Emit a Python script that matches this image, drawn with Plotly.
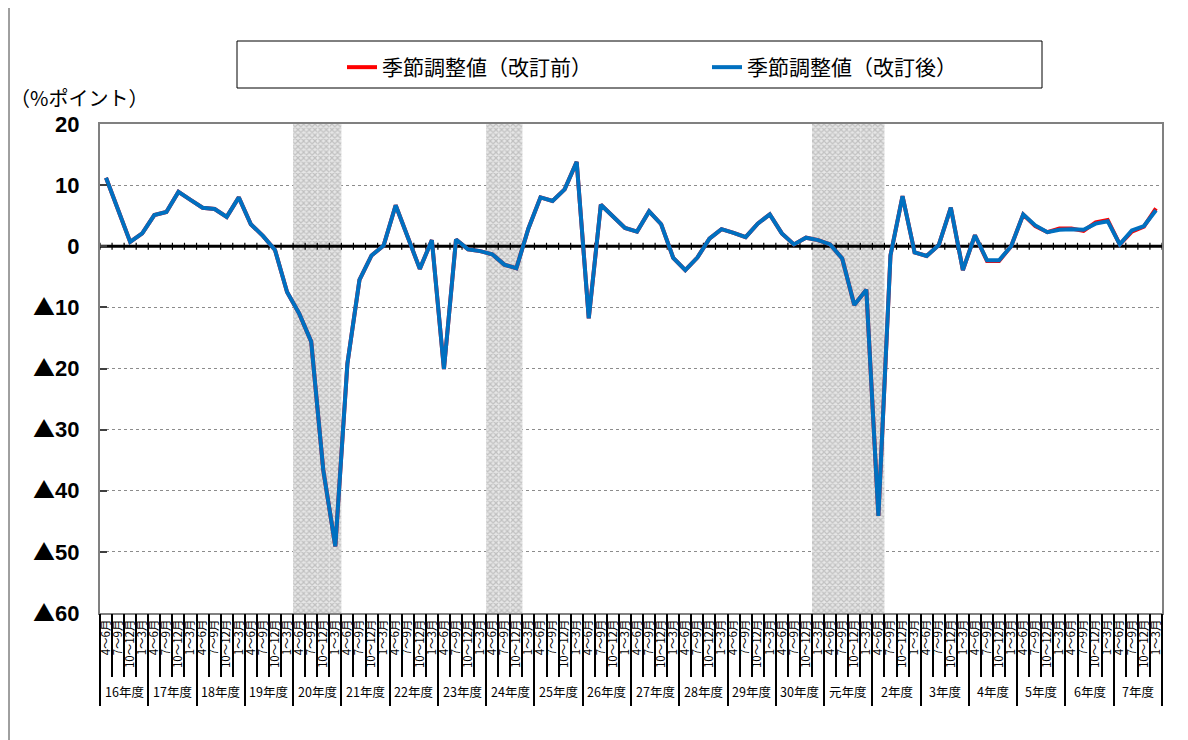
import plotly.graph_objects as go

# ---------------- data ----------------
years = ["16年度", "17年度", "18年度", "19年度", "20年度", "21年度", "22年度", "23年度",
         "24年度", "25年度", "26年度", "27年度", "28年度", "29年度", "30年度", "元年度",
         "2年度", "3年度", "4年度", "5年度", "6年度", "7年度"]
quarters = ["4～6月", "7～9月", "10～12月", "1～3月"]

after_rev = [11.2, 5.8, 0.7, 2.1, 5.1, 5.6, 8.9, 7.6,
             6.3, 6.1, 4.8, 8.0, 3.6, 1.7, -0.6, -7.5,
             -11.0, -15.6, -36.6, -49.1, -19.2, -5.5, -1.5, 0.1,
             6.7, 1.5, -3.7, 1.0, -20.1, 1.1, -0.5, -0.8,
             -1.3, -3.0, -3.6, 2.9, 8.0, 7.4, 9.3, 13.8,
             -11.8, 6.8, 4.9, 3.0, 2.4, 5.7, 3.6, -1.9,
             -3.9, -1.85, 1.25, 2.8, 2.2, 1.5, 3.7, 5.2,
             2.1, 0.3, 1.4, 1.0, 0.3, -2.0, -9.6, -7.1,
             -44.1, -1.5, 8.2, -1.0, -1.6, 0.2, 6.3, -3.9,
             1.8, -2.3, -2.3, 0.0, 5.2, 3.4, 2.3, 2.7,
             2.8, 2.7, 3.7, 4.1, 0.3, 2.6, 3.3, 5.9]

before_rev = [11.2, 5.8, 0.7, 2.1, 5.1, 5.6, 8.9, 7.6,
              6.3, 6.1, 4.8, 8.0, 3.6, 1.7, -0.6, -7.5,
              -11.0, -15.6, -36.6, -49.1, -19.2, -5.5, -1.5, 0.1,
              6.7, 1.5, -3.7, 1.0, -20.1, 1.1, -0.5, -0.8,
              -1.3, -3.0, -3.6, 2.9, 8.0, 7.4, 9.3, 13.8,
              -11.8, 6.8, 4.9, 3.0, 2.4, 5.7, 3.6, -1.9,
              -3.9, -1.85, 1.25, 2.8, 2.2, 1.5, 3.7, 5.2,
              2.1, 0.3, 1.4, 1.0, 0.3, -2.0, -9.6, -7.1,
              -44.1, -1.5, 8.2, -1.0, -1.6, 0.2, 6.3, -3.9,
              1.8, -2.4, -2.4, 0.0, 5.2, 3.3, 2.3, 2.9,
              2.9, 2.5, 3.9, 4.3, 0.3, 2.4, 3.2, 6.2]

# recession (shaded) quarters: 1 = shaded
recession = [0] * 88
for i in [16, 17, 18, 19, 32, 33, 34, 59, 60, 61, 62, 63, 64]:
    recession[i] = 1

y_ticks = [20, 10, 0, -10, -20, -30, -40, -50, -60]
y_labels = ["20", "10", "0", "▲10", "▲20", "▲30", "▲40", "▲50", "▲60"]
y_unit = "（%ポイント）"
legend_names = ["季節調整値（改訂前）", "季節調整値（改訂後）"]

# ---------------- layout constants ----------------
OFF = 8  # page offset of the plot div
W, H = 1188 - OFF, 740 - OFF
ML, MR, MT, MB = 100 - OFF, 26, 124 - OFF, 127
PW, PH = W - ML - MR, H - MT - MB


def px_x(px):
    # px given in page coordinates
    return (px - OFF - ML) / PW


def px_y(py):
    return (H - MB - (py - OFF)) / PH


def fmt_tick(s):
    if s.startswith("▲"):
        return '<span style="font-family:Noto Sans CJK JP">▲</span>' + s[1:]
    return s


n = len(after_rev)
xs = list(range(n))
q_text = [quarters[i % 4] for i in xs]
ymin, ymax = min(y_ticks), max(y_ticks)

fig = go.Figure()

# shaded bands
shade_x = [i for i in xs if recession[i]]
fig.add_trace(go.Bar(
    x=shade_x, y=[ymax - ymin] * len(shade_x), base=[ymin] * len(shade_x),
    width=1.0, showlegend=False, hoverinfo="skip",
    marker=dict(color="#d8d8d8", line=dict(width=0),
                pattern=dict(shape="x", size=4, solidity=0.5,
                             fgcolor="#9a9a9a", bgcolor="#e6e6e6")),
))

# zero line with small tick marks
fig.add_trace(go.Scatter(
    x=[-0.5, n - 0.5], y=[0, 0], mode="lines", showlegend=False, hoverinfo="skip",
    line=dict(color="black", width=3),
))
fig.add_trace(go.Scatter(
    x=[i - 0.5 for i in range(n + 1)], y=[0] * (n + 1), mode="markers",
    showlegend=False, hoverinfo="skip",
    marker=dict(symbol="line-ns", size=5, line=dict(color="black", width=1.2)),
))

# data lines
fig.add_trace(go.Scatter(
    x=xs, y=before_rev, mode="lines", name=legend_names[0],
    line=dict(color="#FF0000", width=4),
))
fig.add_trace(go.Scatter(
    x=xs, y=after_rev, mode="lines", name=legend_names[1],
    line=dict(color="#0070C0", width=4),
))

# dummy traces for overlay tick axes
fig.add_trace(go.Scatter(x=[], y=[], xaxis="x2", showlegend=False, hoverinfo="skip"))
fig.add_trace(go.Scatter(x=[], y=[], xaxis="x3", showlegend=False, hoverinfo="skip"))

xrange = [-0.5, n - 0.5]
fig.update_layout(
    width=W, height=H,
    margin=dict(l=ML, r=MR, t=MT, b=MB),
    paper_bgcolor="white", plot_bgcolor="white",
    barmode="overlay",
    font=dict(family="Noto Sans CJK JP", color="black"),
    xaxis=dict(
        range=xrange, tickmode="array", tickvals=xs, ticktext=q_text,
        tickangle=-90, tickfont=dict(size=11.5, family="Noto Sans CJK JP"),
        ticks="", showgrid=False, zeroline=False,
        showline=True, linecolor="#808080", linewidth=2, mirror=True,
    ),
    xaxis2=dict(
        range=xrange, overlaying="x", anchor="y", side="bottom",
        tickmode="array", tickvals=[i - 0.5 for i in range(n + 1)],
        ticks="outside", ticklen=63, tickwidth=2.2, tickcolor="black",
        showticklabels=False, showgrid=False, zeroline=False, showline=False,
    ),
    xaxis3=dict(
        range=xrange, overlaying="x", anchor="y", side="bottom",
        tickmode="array", tickvals=[4 * k - 0.5 for k in range(len(years) + 1)],
        ticks="outside", ticklen=92, tickwidth=1.5, tickcolor="black",
        showticklabels=False, showgrid=False, zeroline=False, showline=False,
    ),
    yaxis=dict(
        range=[ymin, ymax], tickmode="array", tickvals=y_ticks,
        ticktext=[fmt_tick(s) for s in y_labels],
        tickfont=dict(size=22, family="Liberation Sans", weight="bold"),
        ticks="inside", ticklen=7, tickwidth=1.5, tickcolor="#404040",
        ticklabelstandoff=14,
        showgrid=True, gridcolor="#8c8c8c", griddash="dot", gridwidth=1,
        zeroline=False,
        showline=True, linecolor="#808080", linewidth=2, mirror=True,
    ),
    legend=dict(
        orientation="h", x=px_x(342), xanchor="left", y=px_y(47), yanchor="top",
        font=dict(size=21, family="Noto Sans CJK JP"),
        bgcolor="rgba(0,0,0,0)", borderwidth=0, entrywidth=320,
        traceorder="normal",
    ),
)

# legend frame
fig.add_shape(type="rect", xref="paper", yref="paper",
              x0=px_x(237), x1=px_x(1042), y0=px_y(88), y1=px_y(41),
              line=dict(color="black", width=1), fillcolor="rgba(0,0,0,0)")
# outer left frame line
fig.add_shape(type="line", xref="paper", yref="paper",
              x0=px_x(OFF + 1), x1=px_x(OFF + 1), y0=px_y(740), y1=px_y(OFF),
              line=dict(color="#404040", width=1))

# unit label
fig.add_annotation(text=y_unit, xref="paper", yref="paper",
                   x=px_x(8), y=px_y(97), xanchor="left", yanchor="middle",
                   showarrow=False, font=dict(size=20, family="Noto Sans CJK JP"))

# fiscal year labels
for k, yl in enumerate(years):
    fig.add_annotation(text=yl, xref="x", yref="paper",
                       x=4 * k + 1.5, y=px_y(691), xanchor="center", yanchor="middle",
                       showarrow=False, font=dict(size=12.5, family="Noto Sans CJK JP"))

fig.write_html("out.html")
